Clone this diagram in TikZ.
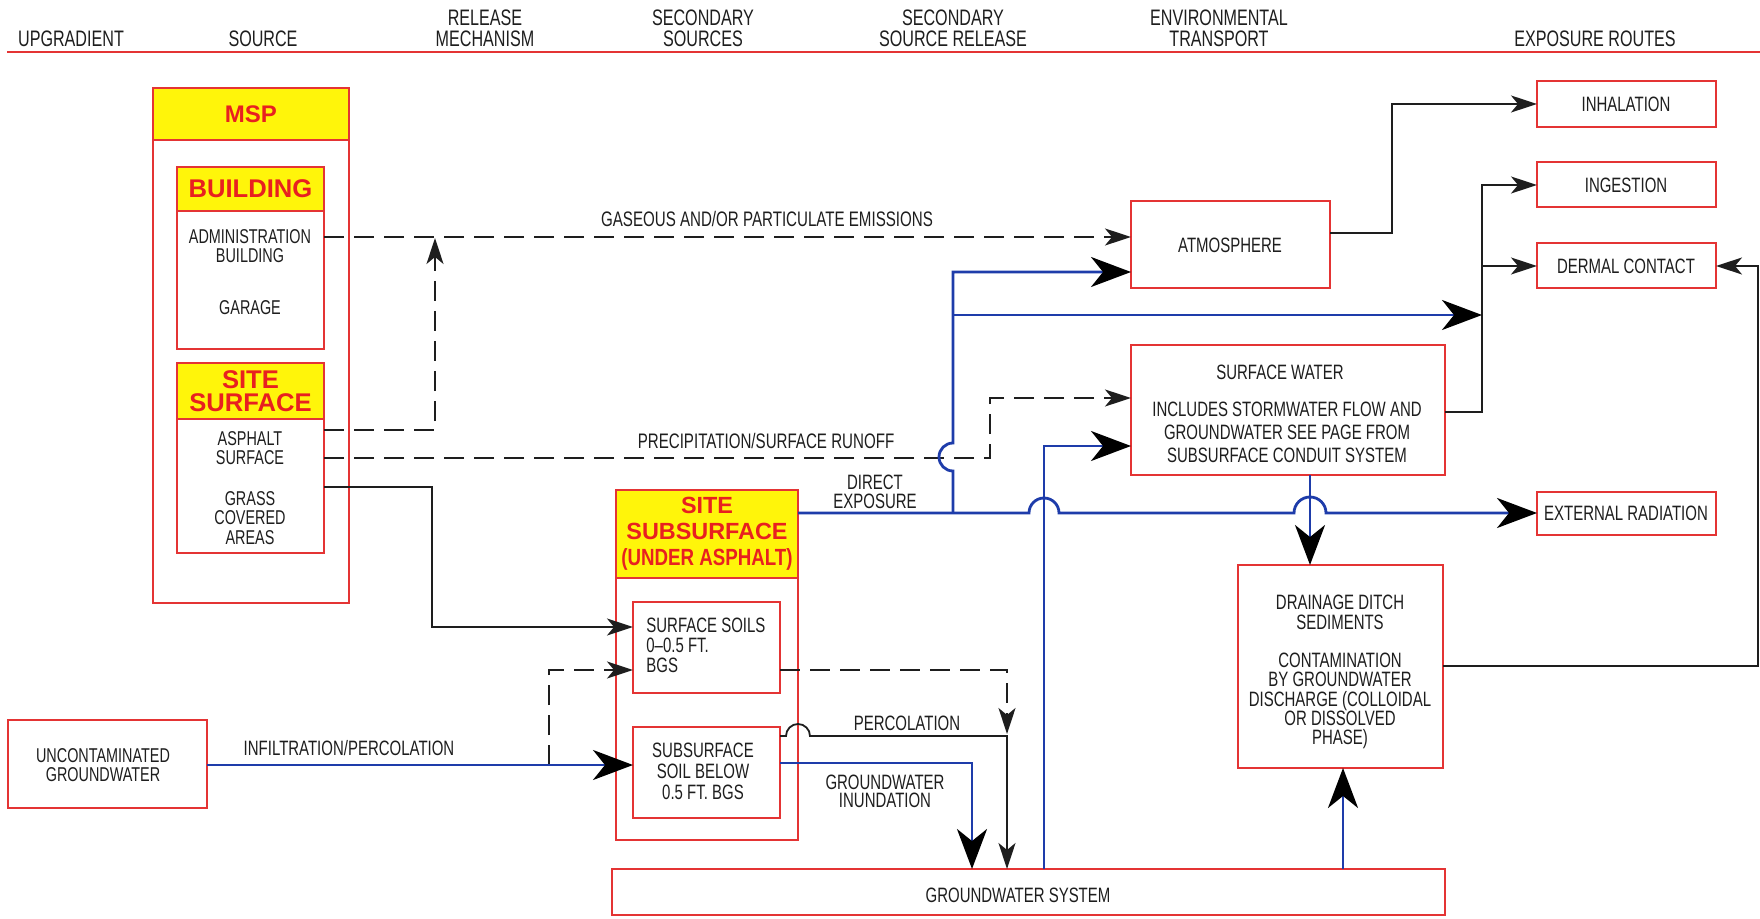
\documentclass[tikz,border=0pt]{standalone}
\usepackage{fontspec}
\usepackage{graphicx}
\setmainfont{Liberation Sans}[FakeStretch=0.72]
\newfontfamily\hdfont{Liberation Sans}
\newfontfamily\hdcond{Liberation Sans}[FakeStretch=0.8]
\usetikzlibrary{arrows.meta}
\definecolor{boxred}{RGB}{228,52,52}
\definecolor{hdred}{RGB}{232,32,32}
\definecolor{yel}{RGB}{255,245,10}
\definecolor{lnblue}{RGB}{30,60,170}
\definecolor{txtc}{RGB}{30,30,30}
\tikzset{
  box/.style={draw=boxred, line width=1pt, inner sep=0pt, outer sep=0pt},
  ybox/.style={box, fill=yel},
  txt/.style={text=txtc, align=center, inner sep=0pt, font=\fontsize{10.4}{10}\selectfont},
  hdr/.style={text=txtc, align=center, inner sep=0pt, font=\fontsize{11.2}{10.5}\selectfont},
  bhd/.style={text=hdred, align=center, inner sep=0pt, font=\hdfont\bfseries\fontsize{12.8}{11.5}\selectfont},
  blk/.style={draw=txtc, line width=0.9pt},
  bl/.style={draw=lnblue, line width=1.4pt},
  dsh/.style={dash pattern=on 10pt off 5pt},
  sarr/.style={-{Stealth[length=13pt,width=8.5pt,inset=3.5pt,color=txtc]}},
  barr/.style={-{Stealth[length=20pt,width=15pt,inset=6pt,color=black]}}
}
\begin{document}
\begin{tikzpicture}[x=0.5pt,y=-0.5pt]
\useasboundingbox (0,0) rectangle (1760,919);
\fill[white] (0,0) rectangle (1760,919);

% header
\coordinate (hl) at (7,52);
\coordinate (hr) at (1760,52);
\draw[boxred, line width=1pt] (hl) -- (hr);
\node[hdr] (h1) at (71,39) {UPGRADIENT};
\node[hdr] (h2) at (263,39) {SOURCE};
\node[hdr] (h3) at (485,28.5) {RELEASE\\MECHANISM};
\node[hdr] (h4) at (703,28.5) {SECONDARY\\SOURCES};
\node[hdr] (h5) at (953,28.5) {SECONDARY\\SOURCE RELEASE};
\node[hdr] (h6) at (1219,28.5) {ENVIRONMENTAL\\TRANSPORT};
\node[hdr] (h7) at (1595,39) {EXPOSURE ROUTES};

% MSP
\node[box, minimum width=98pt, minimum height=257.5pt] (msp) at (251,345.5) {};
\node[ybox, minimum width=98pt, minimum height=26pt] (msph) at (251,114) {};
\node[bhd, font=\hdfont\bfseries\fontsize{12}{11.5}\selectfont] (mspt) at (251,114) {MSP};

\node[box, fill=white, minimum width=73.5pt, minimum height=91pt] (bld) at (250.5,258) {};
\node[ybox, minimum width=73.5pt, minimum height=22pt] (bldh) at (250.5,189) {};
\node[bhd] (bldt) at (250.5,189) {BUILDING};
\node[txt, font=\fontsize{10}{9.5}\selectfont] (adm) at (250,246) {ADMINISTRATION\\BUILDING};
\node[txt, font=\fontsize{10}{9.5}\selectfont] (gar) at (250,308) {GARAGE};

\node[box, fill=white, minimum width=73.5pt, minimum height=95pt] (ss) at (250.5,458) {};
\node[ybox, minimum width=73.5pt, minimum height=28pt] (ssh) at (250.5,391) {};
\node[bhd] (sst) at (250.5,391.5) {SITE\\SURFACE};
\node[txt, font=\fontsize{10}{9.8}\selectfont] (asp) at (250,448) {ASPHALT\\SURFACE};
\node[txt, font=\fontsize{10}{9.8}\selectfont] (grs) at (250,518) {GRASS\\COVERED\\AREAS};

% Site subsurface
\node[box, minimum width=91pt, minimum height=175pt] (sub) at (707,665) {};
\node[ybox, minimum width=91pt, minimum height=44pt] (subh) at (707,534) {};
\node[bhd, font=\hdfont\bfseries\fontsize{11.7}{13}\selectfont] (subt) at (707,533.5) {SITE\\SUBSURFACE\\{\hdcond\bfseries (UNDER ASPHALT)}};
\node[box, minimum width=73.5pt, minimum height=45.5pt] (soil1) at (706.5,647.5) {};
\node[txt, align=left, anchor=west] (soil1t) at (646,645) {SURFACE SOILS\\0--0.5 FT.\\BGS};
\node[box, minimum width=73.5pt, minimum height=45.5pt] (soil2) at (706.5,772.5) {};
\node[txt, font=\fontsize{10.4}{10.5}\selectfont] (soil2t) at (703,771) {SUBSURFACE\\SOIL BELOW\\0.5 FT. BGS};

% uncontaminated groundwater
\node[box, minimum width=99.5pt, minimum height=44pt] (unc) at (107.5,764) {};
\node[txt, font=\fontsize{10}{9.5}\selectfont] (unct) at (103,765) {UNCONTAMINATED\\GROUNDWATER};

% groundwater system
\node[box, minimum width=416.5pt, minimum height=23pt] (gws) at (1028.5,892) {};
\node[txt] (gwst) at (1018,895) {GROUNDWATER SYSTEM};

% atmosphere, surface water, ditch
\node[box, minimum width=99.5pt, minimum height=43.5pt] (atm) at (1230.5,244.5) {};
\node[txt] (atmt) at (1230,245) {ATMOSPHERE};
\node[box, minimum width=157pt, minimum height=65pt] (sw) at (1288,410) {};
\node[txt] (swt) at (1280,372) {SURFACE WATER};
\node[txt, font=\fontsize{10.4}{11.5}\selectfont] (swd) at (1287,432) {INCLUDES STORMWATER FLOW AND\\GROUNDWATER SEE PAGE FROM\\SUBSURFACE CONDUIT SYSTEM};
\node[box, minimum width=102.5pt, minimum height=101.5pt] (dd) at (1340.5,666.5) {};
\node[txt] (ddt) at (1340,612) {DRAINAGE DITCH\\SEDIMENTS};
\node[txt, font=\fontsize{10.4}{9.7}\selectfont] (ddd) at (1340,701) {CONTAMINATION\\BY GROUNDWATER\\DISCHARGE (COLLOIDAL\\OR DISSOLVED\\PHASE)};

% exposure routes
\node[box, minimum width=89.5pt, minimum height=23pt] (inh) at (1626.5,104) {};
\node[txt] (inht) at (1626,104) {INHALATION};
\node[box, minimum width=89.5pt, minimum height=22.5pt] (ing) at (1626.5,184.5) {};
\node[txt] (ingt) at (1626,185) {INGESTION};
\node[box, minimum width=89.5pt, minimum height=22.5pt] (derm) at (1626.5,265.5) {};
\node[txt] (dermt) at (1626,266) {DERMAL CONTACT};
\node[box, minimum width=89.5pt, minimum height=21.5pt] (ext) at (1626.5,513.5) {};
\node[txt] (extt) at (1626,513) {EXTERNAL RADIATION};

% labels
\node[txt, font=\fontsize{10.5}{10}\selectfont] (lg) at (767,219) {GASEOUS AND/OR PARTICULATE EMISSIONS};
\node[txt, font=\fontsize{10.5}{10}\selectfont] (lp) at (766,441) {PRECIPITATION/SURFACE RUNOFF};
\node[txt, font=\fontsize{10.4}{9.5}\selectfont] (lde) at (875,492) {DIRECT\\EXPOSURE};
\node[txt] (lperc) at (907,723) {PERCOLATION};
\node[txt, font=\fontsize{10.4}{9}\selectfont] (lgi) at (885,791) {GROUNDWATER\\INUNDATION};
\node[txt] (linf) at (349,748) {INFILTRATION/PERCOLATION};

% connectors - dashed
\draw[blk, dsh, sarr] (bld.east |- 0,237) -- (atm.west |- 0,237);
\draw[blk, dsh, sarr] (ss.east |- 0,430) -- (435,430) -- (435,238);
\draw[blk, dsh, sarr] (ss.east |- 0,458) -- (990,458) -- (990,398) -- (sw.west |- 0,398);
\draw[blk, dsh, sarr] (549,765) -- (549,670) -- (soil1.west |- 0,670);
\draw[blk, dsh, sarr] (soil1.east |- 0,670) -- (1007,670) -- (1007,734);

% connectors - solid black
\draw[blk, sarr] (ss.east |- 0,487) -- (432,487) -- (432,627) -- (soil1.west |- 0,627);
\draw[blk, sarr] (soil2.east |- 0,736) -- (786,736) arc[start angle=180, end angle=0, radius=6pt] -- (1007,736) -- (1007,0 |- gws.north);
\draw[blk, sarr] (atm.east |- 0,233) -- (1392,233) -- (1392,104) -- (inh.west |- 0,104);
\draw[blk, sarr] (sw.east |- 0,412) -- (1482,412) -- (1482,185) -- (ing.west |- 0,185);
\draw[blk, sarr] (1482,266) -- (derm.west |- 0,266);
\draw[blk, sarr] (dd.east |- 0,666) -- (1758,666) -- (1758,266) -- (derm.east |- 0,266);

% connectors - blue
\draw[bl, barr] (unc.east |- 0,765) -- (soil2.west |- 0,765);
\draw[bl, barr] (soil2.east |- 0,763) -- (972,763) -- (972,0 |- gws.north);
\draw[bl, barr] (sub.east |- 0,513) -- (1029,513) arc[start angle=180, end angle=0, radius=7.5pt] -- (1294,513) arc[start angle=180, end angle=0, radius=8pt] -- (ext.west |- 0,513);
\draw[bl, barr] (953,513) -- (953,471) arc[start angle=270, end angle=90, radius=7pt] -- (953,272) -- (atm.west |- 0,272);
\draw[bl, barr] (953,315) -- (1482,315);
\draw[bl, barr] (1044,0 |- gws.north) -- (1044,446) -- (sw.west |- 0,446);
\draw[bl, barr] (1310,0 |- sw.south) -- (1310,0 |- dd.north);
\draw[bl, barr] (1343,0 |- gws.north) -- (1343,0 |- dd.south);
\end{tikzpicture}
\end{document}
